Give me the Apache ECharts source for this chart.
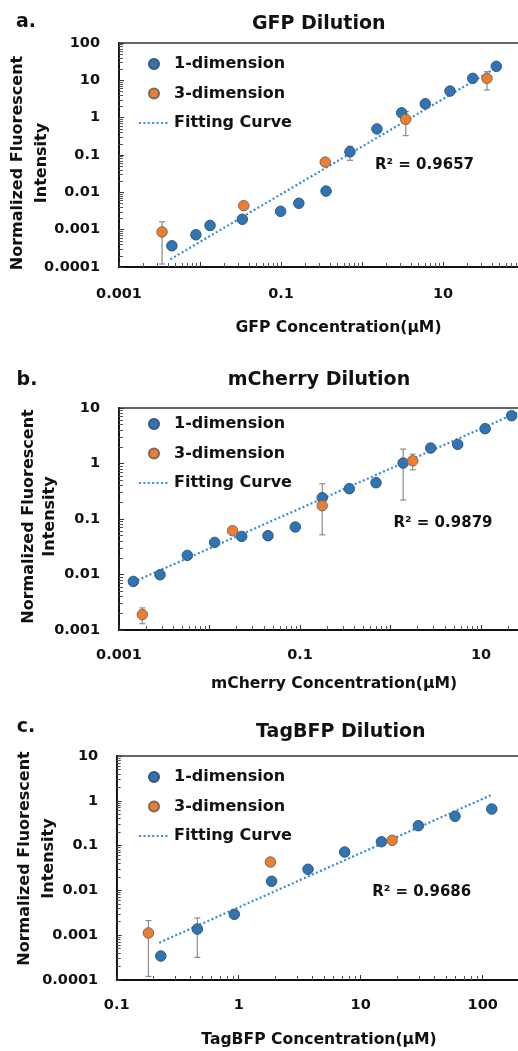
<!DOCTYPE html>
<html><head><meta charset="utf-8">
<script src="https://cdn.jsdelivr.net/npm/echarts@6/dist/echarts.min.js"></script>
<style>html,body{margin:0;padding:0;overflow:hidden;background:#fff;width:518px;height:1051px}#c{width:680px;height:1051px}</style>
</head><body><div id="c"></div><script>
// ---- Panel a: GFP ----
const aBlueX = [0.0045,0.0089,0.0133,0.0333,0.099,0.166,0.36,0.71,1.53,3.09,6.04,12.2,23.3,45.5];
const aBlueY = [0.00037,0.00073,0.0013,0.0019,0.0031,0.0051,0.0108,0.122,0.50,1.35,2.36,5.17,11.3,23.7];
const aBlueErr = [0,0,0,0,0,0,0,0.05,0,0,0,0,0,0];
const aOrangeX = [0.0034,0.0347,0.352,3.47,34.9];
const aOrangeY = [0.00087,0.0044,0.0645,0.90,11.3];
const aOrangeErr = [0.00075,0,0,0.57,5.8];
const aFitX = [0.0043,44];
const aFitY = [0.00016,21];
// ---- Panel b: mCherry ----
const bBlueX = [0.00144,0.00284,0.00569,0.0114,0.0227,0.0443,0.0887,0.176,0.351,0.692,1.38,2.78,5.53,11.1,21.8];
const bBlueY = [0.0075,0.0099,0.0221,0.0379,0.0486,0.050,0.0718,0.242,0.352,0.451,1.02,1.90,2.21,4.24,7.26];
const bBlueErr = [0,0,0,0,0,0,0,0.19,0,0,0.8,0,0,0,0];
const bOrangeX = [0.00181,0.018,0.176,1.76];
const bOrangeY = [0.0019,0.0615,0.174,1.12];
const bOrangeErr = [0.0006,0,0,0.35];
const bFitX = [0.0016,25];
const bFitY = [0.0079,8.2];
// ---- Panel c: TagBFP ----
const cBlueX = [0.23,0.458,0.92,1.86,3.7,7.39,14.8,29.7,59.3,118.6];
const cBlueY = [0.000343,0.00137,0.00293,0.016,0.0296,0.072,0.122,0.278,0.451,0.656];
const cBlueErr = [0,0.00105,0,0,0,0,0,0,0,0];
const cOrangeX = [0.182,1.82,18.1];
const cOrangeY = [0.00112,0.043,0.131];
const cOrangeErr = [0.001,0,0];
const cFitX = [0.223,116.4];
const cFitY = [0.00068,1.33];

const titles = ['GFP Dilution','mCherry Dilution','TagBFP Dilution'];
const panelLabels = ['a.','b.','c.'];
const xNames = ['GFP Concentration(µM)','mCherry Concentration(µM)','TagBFP Concentration(µM)'];
const yName = 'Normalized Fluorescent\nIntensity';
const r2Texts = ['R² = 0.9657','R² = 0.9879','R² = 0.9686'];
const seriesNames = ['1-dimension','3-dimension','Fitting Curve'];

const FONT = 'DejaVu Sans';
const BLUE = '#2E75B6', ORANGE = '#ED7D31', FIT = '#2F8BE0';

const panels = [
  {bx:aBlueX,by:aBlueY,be:aBlueErr,ox:aOrangeX,oy:aOrangeY,oe:aOrangeErr,fx:aFitX,fy:aFitY,
   grid:{left:119,top:43,width:405,height:224}, x:[0.001,100,5,true], y:[0.0001,100,6], xm:20, ym:19, legTop:55},
  {bx:bBlueX,by:bBlueY,be:bBlueErr,ox:bOrangeX,oy:bOrangeY,oe:bOrangeErr,fx:bFitX,fy:bFitY,
   grid:{left:119,top:408,width:452.5,height:222}, x:[0.001,100,5,true], y:[0.001,10,4], xm:18, ym:19, legTop:415},
  {bx:cBlueX,by:cBlueY,be:cBlueErr,ox:cOrangeX,oy:cOrangeY,oe:cOrangeErr,fx:cFitX,fy:cFitY,
   grid:{left:116.7,top:756,width:488,height:224}, x:[0.1,1000,4,false], y:[0.0001,10,5], xm:18, ym:18.5, legTop:768}
];

function fmt(v){ return String(Number(v.toPrecision(6))); }
function fmtOdd(v){ const e = Math.round(Math.log10(v)); return (e % 2 !== 0) ? fmt(v) : ''; }

function errRender(params, api){
  const x = api.value(0), y = api.value(1), e = api.value(2);
  const lo = Math.max(y - e, 1e-12);
  const p1 = api.coord([x, y + e]), p2 = api.coord([x, lo]);
  const w = 3;
  const style = {stroke:'#8c8c8c', lineWidth:1.2};
  return {type:'group', children:[
    {type:'line', shape:{x1:p1[0],y1:p1[1],x2:p2[0],y2:p2[1]}, style},
    {type:'line', shape:{x1:p1[0]-w,y1:p1[1],x2:p1[0]+w,y2:p1[1]}, style},
    {type:'line', shape:{x1:p2[0]-w,y1:p2[1],x2:p2[0]+w,y2:p2[1]}, style}
  ]};
}

const axisCommon = {
  type:'log', logBase:10,
  axisLine:{show:true, lineStyle:{color:'#111', width:1.8}},
  axisTick:{show:true, inside:true, length:5, lineStyle:{color:'#333', width:1}},
  minorTick:{show:true, splitNumber:9, length:4, lineStyle:{color:'#555', width:1}},
  splitLine:{show:false}, minorSplitLine:{show:false}
};

const grids=[], xAxes=[], yAxes=[], series=[], legends=[], graphics=[];
panels.forEach((p,i)=>{
  grids.push(Object.assign({show:true, borderColor:'#333', borderWidth:1.5, backgroundColor:'transparent'}, p.grid));
  xAxes.push(Object.assign({}, axisCommon, {gridIndex:i, min:p.x[0], max:p.x[1], splitNumber:p.x[2],
    axisLabel:{margin:p.xm, formatter:p.x[3] ? fmtOdd : fmt, fontFamily:FONT, fontWeight:'bold', fontSize:14.5, color:'#111'}}));
  yAxes.push(Object.assign({}, axisCommon, {gridIndex:i, min:p.y[0], max:p.y[1], splitNumber:p.y[2],
    axisLabel:{margin:p.ym, formatter:fmt, fontFamily:FONT, fontWeight:'bold', fontSize:14.5, color:'#111'}}));
  series.push({type:'line', name:seriesNames[2], xAxisIndex:i, yAxisIndex:i, symbol:'none', z:1,
    data:p.fx.map((x,k)=>[x,p.fy[k]]), lineStyle:{color:FIT, width:2.2, type:[2,2.4]}, itemStyle:{color:FIT}, silent:true});
  const errData = p.bx.map((x,k)=>[x,p.by[k],p.be[k]]).concat(p.ox.map((x,k)=>[x,p.oy[k],p.oe[k]])).filter(d=>d[2]>0);
  series.push({type:'custom', name:'err'+i, xAxisIndex:i, yAxisIndex:i, z:2, clip:true,
    renderItem:errRender, data:errData, encode:{x:0,y:1}, silent:true});
  series.push({type:'scatter', name:seriesNames[0], xAxisIndex:i, yAxisIndex:i, z:3, symbol:'circle', symbolSize:10.5,
    data:p.bx.map((x,k)=>[x,p.by[k]]), itemStyle:{color:BLUE, borderColor:'#3d5570', borderWidth:1, opacity:1}});
  series.push({type:'scatter', name:seriesNames[1], xAxisIndex:i, yAxisIndex:i, z:4, symbol:'circle', symbolSize:10.5,
    data:p.ox.map((x,k)=>[x,p.oy[k]]), itemStyle:{color:ORANGE, borderColor:'#7a6a5e', borderWidth:1, opacity:1}});
  legends.push({orient:'vertical', left:138, top:p.legTop, itemWidth:30, itemHeight:10, itemGap:11.5, padding:0,
    selectedMode:false,
    data:[seriesNames[0], seriesNames[1], {name:seriesNames[2], itemStyle:{opacity:0, borderWidth:0}}],
    textStyle:{fontFamily:FONT, fontWeight:'bold', fontSize:16, color:'#111', lineHeight:18}});
});

const T = (text, x, y, size, extra) => Object.assign({type:'text', x, y, silent:true,
  style:{text, fontFamily:FONT, fontWeight:'bold', fontSize:size, fill:'#111', align:'center', verticalAlign:'middle'}}, extra||{});

// titles
graphics.push(T(titles[0], 318.7, 24, 19));
graphics.push(T(titles[1], 319, 380.5, 19));
graphics.push(T(titles[2], 340.8, 732.3, 19));
// panel labels
graphics.push(T(panelLabels[0], 26, 22, 19));
graphics.push(T(panelLabels[1], 27, 380.5, 19));
graphics.push(T(panelLabels[2], 26, 727, 19));
// x names
graphics.push(T(xNames[0], 338.5, 328, 15.6));
graphics.push(T(xNames[1], 334, 684, 15.6));
graphics.push(T(xNames[2], 319, 1040, 15.6));
// y names
[[30,163,23.4],[39.2,516.5,21.7],[36.7,858.5,23.3]].forEach(a=>{
  const t = T(yName, a[0], a[1], 16, {rotation:Math.PI/2});
  t.style.lineHeight = a[2];
  graphics.push(t);
});
// R2
graphics.push(T(r2Texts[0], 424.5, 165, 15));
graphics.push(T(r2Texts[1], 443, 523.3, 15));
graphics.push(T(r2Texts[2], 421.7, 891.7, 15));

const chart = echarts.init(document.getElementById('c'), null, {renderer:'canvas'});
chart.setOption({
  animation:false, backgroundColor:'#fff',
  grid:grids, xAxis:xAxes, yAxis:yAxes, series:series, legend:legends,
  graphic:{elements:graphics}
});
</script></body></html>
